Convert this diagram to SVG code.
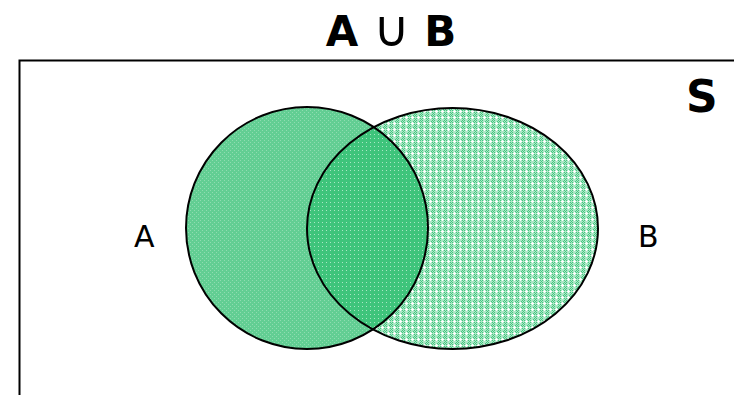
<svg xmlns="http://www.w3.org/2000/svg" width="734" height="395" viewBox="0 0 734 395">
  <style>
    .title { font-family: "DejaVu Sans", Verdana, sans-serif; font-weight: bold; font-size: 42px; fill: #000; }
    .lbl { font-family: "DejaVu Sans", Verdana, sans-serif; font-size: 30px; fill: #000; }
    .outline { fill: none; stroke: #000; stroke-width: 2; }
  </style>
  <defs>
    <pattern id="patA" width="4" height="4" patternUnits="userSpaceOnUse">
      <rect width="4" height="4" fill="#62ce93"/>
      <path d="M0 0h1v1h-1z M2 2h1v1h-1z" fill="#8edcb0"/>
    </pattern>
    <pattern id="patB" width="6" height="6" patternUnits="userSpaceOnUse">
      <rect width="6" height="6" fill="#ace7c6"/>
      <path d="M0 0h1v1h-1z M2 0h1v1h-1z M1 1h1v1h-1z M0 2h1v1h-1z M2 2h1v1h-1z M1 5h1v1h-1z M5 1h1v1h-1z M0 4h1v1h-1z M2 4h1v1h-1z" fill="#44c680"/>
      <path d="M3 3h3v1h-3z M4 2h1v3h-1z" fill="#ffffff"/>
    </pattern>
    <pattern id="patI" width="4" height="4" patternUnits="userSpaceOnUse">
      <rect width="4" height="4" fill="#3ec47b"/>
      <path d="M2 2h1v1h-1z" fill="#a8e6c3"/>
    </pattern>
    <clipPath id="clipA">
      <ellipse cx="307" cy="228" rx="121" ry="121"/>
    </clipPath>
  </defs>

  <g id="title">
    <text class="title" x="391" y="46" text-anchor="middle">A <tspan font-weight="normal" font-size="50">∪</tspan> B</text>
  </g>

  <g id="universe">
    <path d="M19.5 395 V60.5 H734" fill="none" stroke="#000" stroke-width="2"/>
    <text class="title" x="686" y="112" style="font-size:44px">S</text>
  </g>

  <g id="setA">
    <ellipse cx="307" cy="228" rx="121" ry="121" fill="url(#patA)"/>
  </g>
  <g id="setB">
    <ellipse cx="452.5" cy="228.5" rx="145.5" ry="120.5" fill="url(#patB)"/>
  </g>
  <g id="intersection">
    <ellipse cx="452.5" cy="228.5" rx="145.5" ry="120.5" fill="url(#patI)" clip-path="url(#clipA)"/>
  </g>
  <g id="outlines">
    <ellipse class="outline" cx="307" cy="228" rx="121" ry="121"/>
    <ellipse class="outline" cx="452.5" cy="228.5" rx="145.5" ry="120.5"/>
  </g>

  <g id="labelA"><text class="lbl" x="134" y="247">A</text></g>
  <g id="labelB"><text class="lbl" x="638" y="247">B</text></g>
</svg>
